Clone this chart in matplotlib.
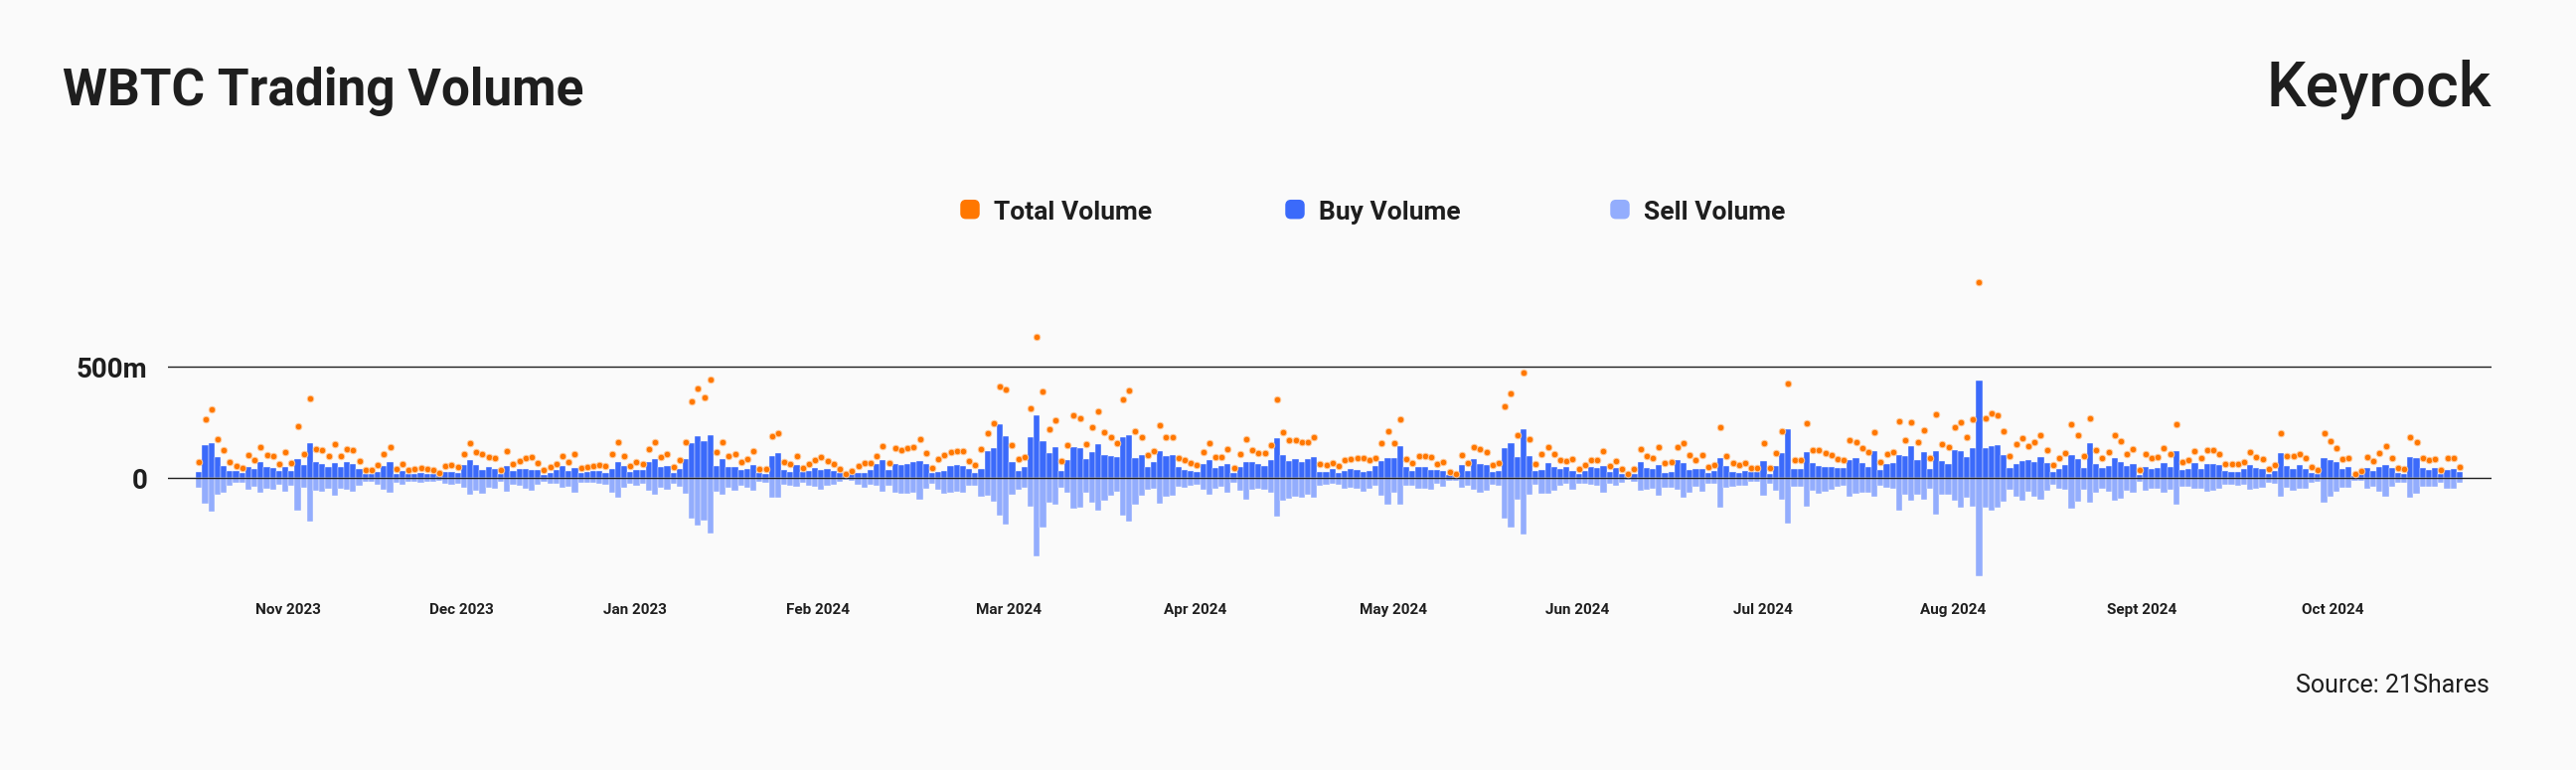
import numpy as np
import matplotlib
matplotlib.use("Agg")
import matplotlib.pyplot as plt
from matplotlib.patches import FancyBboxPatch

plt.rcParams['font.family'] = ['Roboto', 'DejaVu Sans']

# ---------------- data (millions USD, daily) ----------------
buy = [
    27, 149, 158, 94, 55, 33, 33, 24, 51, 42, 73, 51, 45, 31, 51, 31, 85, 60, 157, 72,
    63, 48, 69, 49, 73, 64, 39, 18, 18, 27, 55, 73, 19, 33, 18, 19, 24, 19, 18, 9,
    28, 27, 24, 60, 81, 60, 37, 51, 42, 18, 55, 33, 40, 42, 37, 36, 15, 24, 37, 55,
    31, 43, 24, 27, 31,
    30, 24, 42, 73, 54, 27, 36, 37, 72, 84, 49, 54, 24, 40, 87, 158, 188, 167, 194, 54,
    85, 51, 51, 37, 40, 60, 21, 19, 96, 110, 37, 27, 57, 25, 30, 43, 37, 40, 33, 22,
    9, 16, 24, 24, 36, 63, 79, 34, 63, 57, 64, 72, 76, 64, 21, 28, 33, 52, 60, 55,
    39, 24, 42, 119, 136, 240, 188, 72, 33, 49, 185, 281, 164,
    110, 139, 33, 81, 140, 136, 85, 116, 152, 104, 99, 94, 182, 194, 88, 104, 49, 72, 122, 96,
    101, 49, 37, 30, 25, 64, 79, 45, 55, 63, 22, 48, 73, 72, 61, 55, 81, 179, 103, 76,
    85, 72, 84, 93, 28, 28, 40, 24, 31, 40, 37, 28, 31, 55, 76, 90, 90, 143, 49, 31,
    51, 51, 37, 36, 33, 13, 8, 60, 30, 84, 63, 60, 27,
    33, 136, 158, 94, 219, 97, 31, 37, 69, 49, 42, 48, 33, 16, 31, 51, 45, 54, 28, 43,
    18, 10, 20, 73, 45, 42, 58, 24, 28, 82, 67, 37, 42, 40, 24, 30, 90, 55, 25, 21,
    33, 27, 27, 75, 18, 54, 113, 219, 40, 40, 116, 67, 54, 51, 49, 46, 45, 82, 90, 66,
    48, 122, 37, 61, 66, 104, 96, 145, 81, 115, 40, 121,
    78, 64, 125, 119, 94, 134, 439, 136, 143, 149, 104, 45, 64, 76, 79, 72, 94, 67, 25, 39,
    57, 104, 87, 45, 158, 61, 43, 54, 91, 73, 52, 63, 15, 51, 42, 45, 69, 51, 121, 34,
    39, 69, 40, 64, 64, 57, 31, 28, 27, 40, 60, 43, 42, 19, 31, 113, 54, 42, 58, 42,
    24, 18, 90, 79, 73, 42, 48, 7, 18, 45, 33, 49, 58,
    46, 24, 19, 94, 91, 46, 37, 45, 16, 37, 40, 25,
]
sell = [
    46, 116, 152, 78, 69, 37, 21, 21, 52, 40, 66, 51, 55, 31, 64, 37, 149, 45, 198, 57,
    61, 51, 82, 51, 55, 61, 37, 19, 16, 33, 52, 67, 21, 30, 16, 19, 21, 19, 18, 12,
    25, 30, 25, 46, 75, 58, 72, 43, 49, 16, 64, 30, 37, 49, 57, 30, 19, 25, 25, 45,
    40, 66, 22, 22, 24,
    28, 31, 66, 88, 46, 27, 34, 25, 58, 76, 43, 55, 25, 40, 73, 184, 213, 193, 248, 64,
    76, 45, 58, 36, 45, 60, 18, 21, 91, 91, 33, 36, 39, 21, 34, 39, 55, 34, 31, 19,
    10, 15, 30, 45, 33, 37, 63, 34, 69, 70, 70, 67, 97, 48, 25, 55, 70, 66, 61, 67,
    36, 34, 87, 82, 109, 169, 210, 75, 52, 46, 128, 351, 225,
    110, 121, 43, 66, 140, 134, 66, 110, 148, 103, 82, 63, 170, 197, 122, 81, 52, 49, 116, 87,
    81, 40, 43, 37, 33, 52, 78, 48, 40, 66, 24, 58, 100, 55, 51, 55, 66, 172, 104, 93,
    85, 88, 75, 90, 34, 30, 25, 31, 51, 46, 51, 61, 49, 36, 79, 122, 66, 122, 37, 34,
    49, 49, 55, 25, 40, 13, 12, 43, 37, 55, 66, 58, 31,
    34, 185, 221, 99, 255, 75, 30, 70, 70, 57, 37, 28, 54, 25, 25, 31, 36, 67, 27, 34,
    21, 10, 18, 58, 55, 48, 79, 43, 43, 55, 90, 66, 40, 61, 25, 28, 136, 43, 40, 37,
    36, 19, 19, 81, 28, 57, 97, 207, 42, 42, 131, 58, 70, 61, 52, 40, 36, 87, 70, 67,
    67, 84, 34, 46, 49, 149, 75, 104, 78, 99, 51, 166,
    75, 75, 103, 133, 88, 130, 442, 134, 149, 133, 107, 52, 87, 101, 64, 87, 96, 57, 31, 49,
    54, 137, 106, 55, 110, 66, 48, 61, 103, 94, 57, 67, 19, 57, 48, 49, 67, 54, 122, 39,
    42, 51, 49, 63, 60, 49, 30, 33, 36, 31, 54, 49, 45, 21, 28, 87, 46, 57, 49, 49,
    24, 19, 113, 87, 61, 45, 43, 12, 12, 49, 42, 64, 87,
    42, 21, 21, 90, 70, 42, 42, 40, 21, 51, 51, 22,
]
# Total Volume dots = Buy + Sell for each day (as plotted in the chart)
total = [b + s for b, s in zip(buy, sell)]

month_labels = ["Nov 2023", "Dec 2023", "Jan 2023", "Feb 2024", "Mar 2024", "Apr 2024",
                "May 2024", "Jun 2024", "Jul 2024", "Aug 2024", "Sept 2024", "Oct 2024"]
y_tick_values = [0, 500]
y_tick_labels = ["0", "500m"]

# ---------------- layout ----------------
W, H = 2592, 775
BG = "#FAFAFA"
TXT = "#1E1E1E"
ORANGE = "#FF7700"
BUY_C = "#3B6AFA"
SELL_C = "#93ADFD"

N = len(buy)
bar_x0, bar_x1 = 197.3, 2478.0          # pixel extent of the bars
ax_x0, ax_x1 = 169.0, 2507.0            # pixel extent of the axes / grid lines
ax_top, ax_bot = 260.0, 600.0
zero_px, top_px = 481.0, 369.0          # pixel rows of 0 and 500m
ppb = (bar_x1 - bar_x0) / N
ppm = (zero_px - top_px) / 500.0

fig = plt.figure(figsize=(W / 100, H / 100), dpi=100, facecolor=BG)
ax = fig.add_axes([ax_x0 / W, 1 - ax_bot / H, (ax_x1 - ax_x0) / W, (ax_bot - ax_top) / H])
ax.set_facecolor("none")

x = np.arange(N)
ax.bar(x, buy, width=1.0, color=BUY_C, edgecolor=BG, linewidth=0.3, zorder=2)
ax.bar(x, [-v for v in sell], width=1.0, color=SELL_C, edgecolor=BG, linewidth=0.3, zorder=2)
ax.plot(x, total, "o", ms=4.7, color=ORANGE, mec="#FFC999", mew=0.7, zorder=4, ls="none")

ax.axhline(0, color=TXT, lw=1.0, zorder=3)
ax.axhline(500, color=TXT, lw=1.0, zorder=1)

ax.set_xlim(-0.5 - (bar_x0 - ax_x0) / ppb, N - 0.5 + (ax_x1 - bar_x1) / ppb)
ax.set_ylim(-(ax_bot - zero_px) / ppm, (zero_px - ax_top) / ppm)
for s in ax.spines.values():
    s.set_visible(False)

# month label pixel centres -> bar coordinates
label_px = [290.3, 464.4, 638.8, 823.0, 1014.7, 1202.7, 1402.3, 1586.7, 1774.0, 1965.0, 2155.3, 2347.5]
tick_pos = [(p - bar_x0) / ppb - 0.5 for p in label_px]
ax.set_xticks(tick_pos, month_labels)
ax.tick_params(axis="x", length=0, pad=5, labelsize=11, labelcolor=TXT)
for t in ax.get_xticklabels():
    t.set_fontweight("semibold")

ax.set_yticks(y_tick_values, y_tick_labels)
ax.tick_params(axis="y", length=0, pad=15, labelsize=20, labelcolor=TXT)
for t in ax.get_yticklabels():
    t.set_fontweight("semibold")

def fx(px):
    return px / W

def fy(py):
    return 1 - py / H

# title & logo
fig.text(fx(63), fy(106), "WBTC Trading Volume", fontsize=37, fontweight="bold",
         color=TXT, ha="left", va="baseline")
fig.text(fx(2507), fy(107), "Keyrock", fontsize=45, fontweight="medium",
         color=TXT, ha="right", va="baseline")

# legend
legend_items = [("Total Volume", ORANGE, 966), ("Buy Volume", BUY_C, 1293), ("Sell Volume", SELL_C, 1620)]
for label, col, px in legend_items:
    box = FancyBboxPatch((fx(px + 2), fy(218.7)), 16 / W, 16 / H,
                         boxstyle="round,pad=0,rounding_size=0.0015",
                         transform=fig.transFigure, facecolor=col, edgecolor=col,
                         linewidth=2.5, mutation_aspect=W / H)
    fig.patches.append(box)
    fig.text(fx(px + 34), fy(220.7), label, fontsize=19, fontweight="semibold",
             color=TXT, ha="left", va="baseline")

# source
fig.text(fx(2505), fy(697), "Source: 21Shares", fontsize=18, color=TXT,
         ha="right", va="baseline")

fig.savefig("out.png", dpi=100, facecolor=BG)
